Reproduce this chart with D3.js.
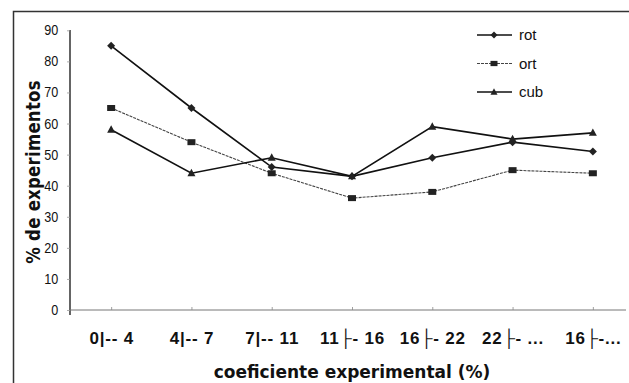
<!DOCTYPE html>
<html>
<head>
<meta charset="utf-8">
<script src="https://cdn.jsdelivr.net/npm/d3@7/dist/d3.min.js"></script>
<style>
  html, body { margin: 0; padding: 0; background: #fff; }
  svg { display: block; }
</style>
</head>
<body>
<svg id="chart" width="629" height="383"></svg>
<script>
// Coefficient classes (x axis)
const categories = ["0|-- 4", "4|-- 7", "7|-- 11", "11\u251c- 16", "16\u251c- 22", "22\u251c- ...", "16\u251c-..."];
// Percentage of experiments per class
const rotValues = [85, 65, 46, 43, 49, 54, 51];
const ortValues = [65, 54, 44, 36, 38, 45, 44];
const cubValues = [58, 44, 49, 43, 59, 55, 57];
const yTicks = [0, 10, 20, 30, 40, 50, 60, 70, 80, 90];
const seriesNames = ["rot", "ort", "cub"];

const series = [
  { name: seriesNames[0], values: rotValues, marker: "diamond", color: "#111", width: 1.6, dash: null },
  { name: seriesNames[1], values: ortValues, marker: "square", color: "#444", width: 1.1, dash: "3,1" },
  { name: seriesNames[2], values: cubValues, marker: "triangle", color: "#111", width: 1.6, dash: null }
];

const svg = d3.select("#chart");

// Outer frame
svg.append("path")
  .attr("d", "M13.5,383 L13.5,11.5 L629,11.5")
  .attr("fill", "none").attr("stroke", "#333").attr("stroke-width", 1.5);

const x = d3.scalePoint().domain(categories).range([71, 633]).padding(0.5);
const y = d3.scaleLinear().domain([0, 90]).range([310, 30.3]);

// Y axis
const yAxis = svg.append("g").attr("transform", "translate(70,0)")
  .call(d3.axisLeft(y).tickValues(yTicks).tickSize(3).tickPadding(10).tickFormat(d3.format("d")));
yAxis.select(".domain").attr("d", "M0,30V315").attr("stroke", "#111").attr("stroke-width", 1.3);
yAxis.selectAll(".tick line").attr("stroke", "#999").attr("stroke-width", 0.8);
yAxis.selectAll(".tick text")
  .attr("font-family", "'Liberation Sans Narrow', 'Arial Narrow', 'Liberation Sans', sans-serif")
  .attr("font-size", 14).attr("fill", "#111")
  .attr("transform", "scale(0.9,1)");

// X axis
const xAxis = svg.append("g").attr("transform", "translate(0,310)")
  .call(d3.axisBottom(x).tickSize(-3).tickPadding(22));
xAxis.select(".domain").attr("d", "M70,0H626").attr("stroke", "#777").attr("stroke-width", 1);
xAxis.selectAll(".tick line").attr("stroke", "#888").attr("stroke-width", 0.8);
xAxis.selectAll(".tick text")
  .attr("font-family", "'Liberation Sans', Arial, 'DejaVu Sans', sans-serif")
  .attr("font-weight", "bold").attr("font-size", 17).attr("fill", "#111")
  .attr("letter-spacing", 0.8)
  .attr("dy", "0.71em");

// Axis titles
svg.append("text")
  .attr("x", 352).attr("y", 378)
  .attr("text-anchor", "middle")
  .attr("font-family", "'DejaVu Sans', Verdana, sans-serif")
  .attr("font-weight", "bold").attr("font-size", 17).attr("fill", "#111")
  .text("coeficiente experimental (%)");

svg.append("text")
  .attr("transform", "translate(40,172) rotate(-90) scale(0.87,1)")
  .attr("text-anchor", "middle")
  .attr("font-family", "'DejaVu Sans', Verdana, sans-serif")
  .attr("font-weight", "bold").attr("font-size", 19).attr("fill", "#111")
  .attr("letter-spacing", 0.3)
  .text("% de experimentos");

// Marker shapes
function markerPath(type, size) {
  const s = size;
  if (type === "diamond") return `M0,${-s}L${s},0L0,${s}L${-s},0Z`;
  if (type === "square") return `M${-s},${-s * 0.75}H${s}V${s * 0.75}H${-s}Z`;
  return `M0,${-s * 1.1}L${s},${s * 0.75}H${-s}Z`;
}

const line = d3.line().x((d, i) => x(categories[i])).y(d => y(d));

series.forEach(s => {
  const g = svg.append("g");
  g.append("path")
    .datum(s.values)
    .attr("d", line)
    .attr("fill", "none")
    .attr("stroke", s.color)
    .attr("stroke-width", s.width)
    .attr("stroke-dasharray", s.dash);
  g.selectAll("path.m")
    .data(s.values)
    .join("path")
    .attr("class", "m")
    .attr("transform", (d, i) => `translate(${x(categories[i])},${y(d)})`)
    .attr("d", markerPath(s.marker, 4))
    .attr("fill", "#222");
});

// Legend
const legend = svg.append("g");
series.forEach((s, i) => {
  const ly = 35 + i * 28.5;
  legend.append("line")
    .attr("x1", 477).attr("x2", 512).attr("y1", ly).attr("y2", ly)
    .attr("stroke", s.color).attr("stroke-width", s.width)
    .attr("stroke-dasharray", s.dash);
  legend.append("path")
    .attr("transform", `translate(494,${ly})`)
    .attr("d", markerPath(s.marker, 3.5))
    .attr("fill", "#222");
  legend.append("text")
    .attr("x", 519).attr("y", ly).attr("dy", "0.35em")
    .attr("font-family", "'Liberation Sans', Arial, sans-serif")
    .attr("font-size", 15).attr("fill", "#111")
    .text(s.name);
});
</script>
</body>
</html>
